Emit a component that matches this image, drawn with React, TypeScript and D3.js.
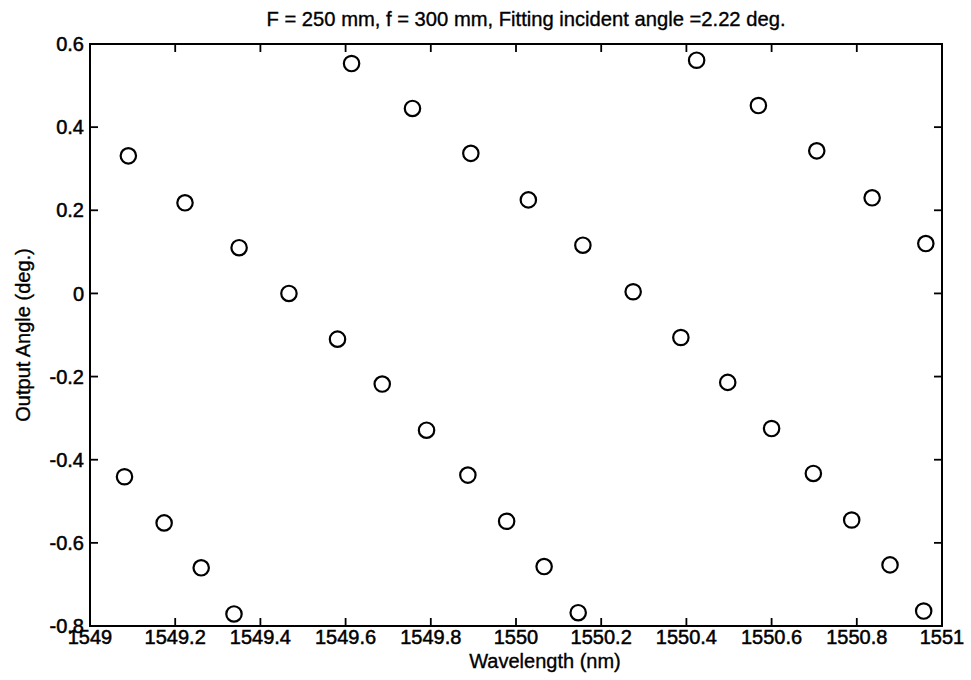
import React from 'react';
import * as d3 from 'd3';

// four diffraction orders
const wlOrderA = [1549.090, 1549.223, 1549.350, 1549.467, 1549.581, 1549.686, 1549.790, 1549.887, 1549.978, 1550.066, 1550.146];
const angOrderA = [0.331, 0.218, 0.110, 0.000, -0.110, -0.218, -0.329, -0.437, -0.548, -0.657, -0.768];

const wlOrderB = [1549.614, 1549.757, 1549.894, 1550.029, 1550.157, 1550.275, 1550.387, 1550.497, 1550.600, 1550.698, 1550.788, 1550.878, 1550.957];
const angOrderB = [0.553, 0.445, 0.337, 0.225, 0.116, 0.004, -0.106, -0.214, -0.325, -0.433, -0.545, -0.653, -0.764];

const wlOrderC = [1550.424, 1550.569, 1550.706, 1550.836, 1550.962];
const angOrderC = [0.561, 0.452, 0.343, 0.230, 0.120];

const wlOrderD = [1549.081, 1549.174, 1549.261, 1549.338];
const angOrderD = [-0.441, -0.552, -0.660, -0.771];

const xTicks = [1549, 1549.2, 1549.4, 1549.6, 1549.8, 1550, 1550.2, 1550.4, 1550.6, 1550.8, 1551];
const yTicks = [-0.8, -0.6, -0.4, -0.2, 0, 0.2, 0.4, 0.6];

const title = 'F = 250 mm, f = 300 mm, Fitting incident angle =2.22 deg.';
const xLabel = 'Wavelength (nm)';
const yLabel = 'Output Angle (deg.)';

const W = 971;
const H = 680;
const margin = { left: 90, right: 29, top: 44, bottom: 54 };
const font = '"Liberation Sans", Arial, sans-serif';

const fmt = (v: number) => String(+v.toFixed(1));

export default function App() {
  const x = d3.scaleLinear().domain([1549, 1551]).range([margin.left, W - margin.right]);
  const y = d3.scaleLinear().domain([-0.8, 0.6]).range([H - margin.bottom, margin.top]);

  const points = [
    ...wlOrderA.map((w, i) => [w, angOrderA[i]]),
    ...wlOrderB.map((w, i) => [w, angOrderB[i]]),
    ...wlOrderC.map((w, i) => [w, angOrderC[i]]),
    ...wlOrderD.map((w, i) => [w, angOrderD[i]]),
  ];

  const x0 = x.range()[0], x1 = x.range()[1];
  const y0 = y.range()[0], y1 = y.range()[1];
  const tl = 8;
  // scanned text looks heavier than plain Arial
  const txt = { fontFamily: font, fill: '#000', stroke: '#000', strokeWidth: 0.35 };

  return (
    <svg width={W} height={H} style={{ position: 'absolute', left: 0, top: 0, background: '#fff' }}>
      <rect x={0} y={0} width={W} height={H} fill="#fff" />
      <text x={526} y={26} textAnchor="middle" fontSize={20.2} {...txt}>{title}</text>

      {/* ticks on all four sides, pointing in */}
      {xTicks.map(t => (
        <g key={'x' + t}>
          <line x1={x(t)} x2={x(t)} y1={y0} y2={y0 - tl} stroke="#000" strokeWidth={1.8} />
          <line x1={x(t)} x2={x(t)} y1={y1} y2={y1 + tl} stroke="#000" strokeWidth={1.8} />
          <text x={x(t)} y={644} textAnchor="middle" fontSize={20} {...txt} strokeWidth={0.5}>{fmt(t)}</text>
        </g>
      ))}
      {yTicks.map(t => (
        <g key={'y' + t}>
          <line x1={x0} x2={x0 + tl} y1={y(t)} y2={y(t)} stroke="#000" strokeWidth={1.8} />
          <line x1={x1} x2={x1 - tl} y1={y(t)} y2={y(t)} stroke="#000" strokeWidth={1.8} />
          <text x={x0 - 6} y={y(t)} dy="0.36em" textAnchor="end" fontSize={20} {...txt} strokeWidth={0.5}>{fmt(t)}</text>
        </g>
      ))}

      <rect x={x0} y={y1} width={x1 - x0} height={y0 - y1} fill="none" stroke="#000" strokeWidth={2} />

      {points.map((p, i) => (
        <circle key={i} cx={x(p[0])} cy={y(p[1])} r={7.7} fill="none" stroke="#000" strokeWidth={2.2} />
      ))}

      <text x={545} y={668} textAnchor="middle" fontSize={20} {...txt}>{xLabel}</text>
      <text transform={`translate(30,${(y0 + y1) / 2}) rotate(-90)`} textAnchor="middle" fontSize={20} {...txt}>{yLabel}</text>
    </svg>
  );
}
